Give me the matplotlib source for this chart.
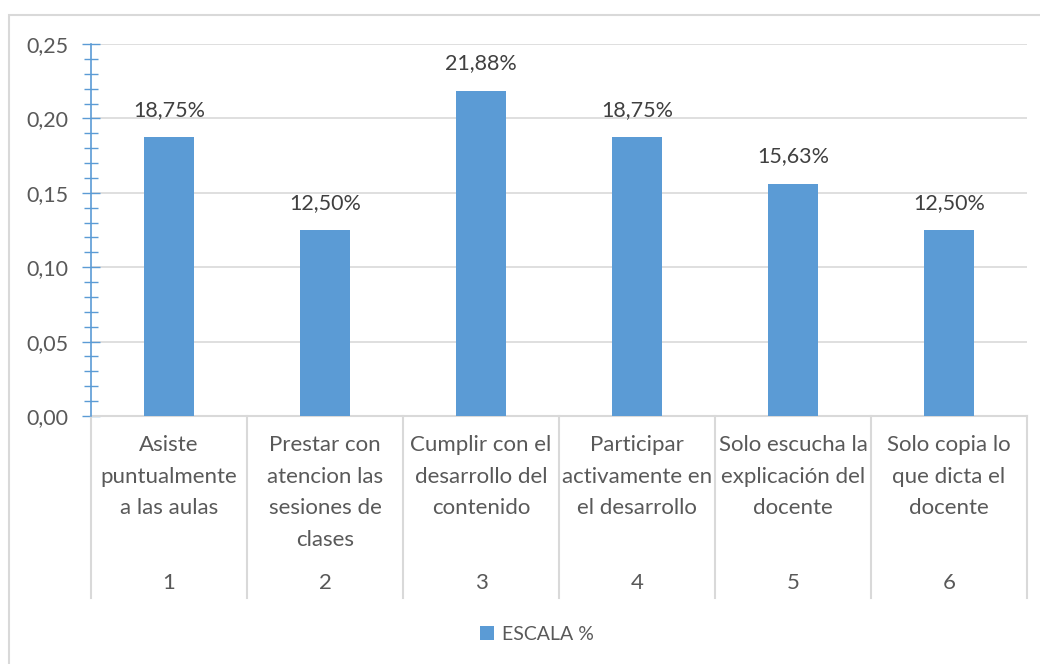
import matplotlib
matplotlib.use("Agg")
import matplotlib.pyplot as plt
from matplotlib.ticker import MultipleLocator, FuncFormatter
from matplotlib.patches import Rectangle, Patch
import matplotlib.transforms as mtransforms

plt.rcParams['font.family'] = ['Lato', 'DejaVu Sans']

categories = ["Asiste\npuntualmente\na las aulas",
              "Prestar con\natencion las\nsesiones de\nclases",
              "Cumplir con el\ndesarrollo del\ncontenido",
              "Participar\nactivamente en\nel desarrollo",
              "Solo escucha la\nexplicación del\ndocente",
              "Solo copia lo\nque dicta el\ndocente"]
numbers = ["1", "2", "3", "4", "5", "6"]
values = [0.1875, 0.125, 0.21875, 0.1875, 0.15625, 0.125]
labels = ["18,75%", "12,50%", "21,88%", "18,75%", "15,63%", "12,50%"]
series_name = "ESCALA %"

BAR = "#5B9BD5"
TXT = "#595959"
GRID = "#D9D9D9"

fig = plt.figure(figsize=(10.4, 6.64), dpi=100)
W, H = 1040, 664
x0, x1, ytop, ybot = 91, 1027, 44, 416
ax = fig.add_axes([x0 / W, 1 - ybot / H, (x1 - x0) / W, (ybot - ytop) / H])

xs = list(range(len(values)))
ax.bar(xs, values, width=0.315, color=BAR, zorder=3)
ax.set_xlim(-0.5, len(values) - 0.5)
ax.set_ylim(0, 0.25)

for x, v, l in zip(xs, values, labels):
    ax.annotate(l, (x, v), xytext=(0, 17), textcoords="offset pixels",
                ha="center", va="bottom", fontsize=15.5, color="#404040")

ax.yaxis.set_major_locator(MultipleLocator(0.05))
ax.yaxis.set_minor_locator(MultipleLocator(0.01))
ax.yaxis.set_major_formatter(FuncFormatter(lambda v, p: f"{v:.2f}".replace(".", ",")))
ax.tick_params(axis="y", which="major", direction="inout", length=13, width=1,
               color=BAR, labelsize=15.5, labelcolor=TXT, pad=10)
ax.tick_params(axis="y", which="minor", direction="inout", length=10, width=1, color=BAR)
ax.set_xticks([])
ax.grid(axis="y", which="major", color=GRID, linewidth=1.2, zorder=0)
ax.set_axisbelow(True)
for s in ["top", "right"]:
    ax.spines[s].set_visible(False)
ax.spines["left"].set_color(BAR)
ax.spines["left"].set_linewidth(1.2)
ax.spines["left"].set_zorder(4)
ax.spines["bottom"].set_color(GRID)
ax.spines["bottom"].set_linewidth(1.5)

trans = mtransforms.blended_transform_factory(ax.transData, ax.transAxes)
ybottom_sep = -(598 - ybot) / (ybot - ytop)
for b in [i - 0.5 for i in range(len(values) + 1)]:
    ax.plot([b, b], [0, ybottom_sep], transform=trans, color=GRID,
            linewidth=1.5, clip_on=False, zorder=1)

ytext = -(435 - ybot) / (ybot - ytop)
ynum = -(583 - ybot) / (ybot - ytop)
for x, c, n in zip(xs, categories, numbers):
    ax.text(x, ytext, c, transform=trans, ha="center", va="top",
            fontsize=16, color=TXT, linespacing=1.72)
    ax.text(x, ynum, n, transform=trans, ha="center", va="center",
            fontsize=16, color=TXT)

fig.legend(handles=[Patch(facecolor=BAR, edgecolor="none", label=series_name)],
           loc="center", bbox_to_anchor=(537 / W, 1 - 634 / H), frameon=False,
           fontsize=14, labelcolor=TXT, handlelength=0.75, handleheight=0.75,
           handletextpad=0.4)

fig.patches.append(Rectangle((8.5 / W, -0.1), 1.2, 1 - 14.5 / H + 0.1,
                             transform=fig.transFigure, fill=False,
                             edgecolor=GRID, linewidth=1.5))

fig.savefig("out.png", dpi=100)
